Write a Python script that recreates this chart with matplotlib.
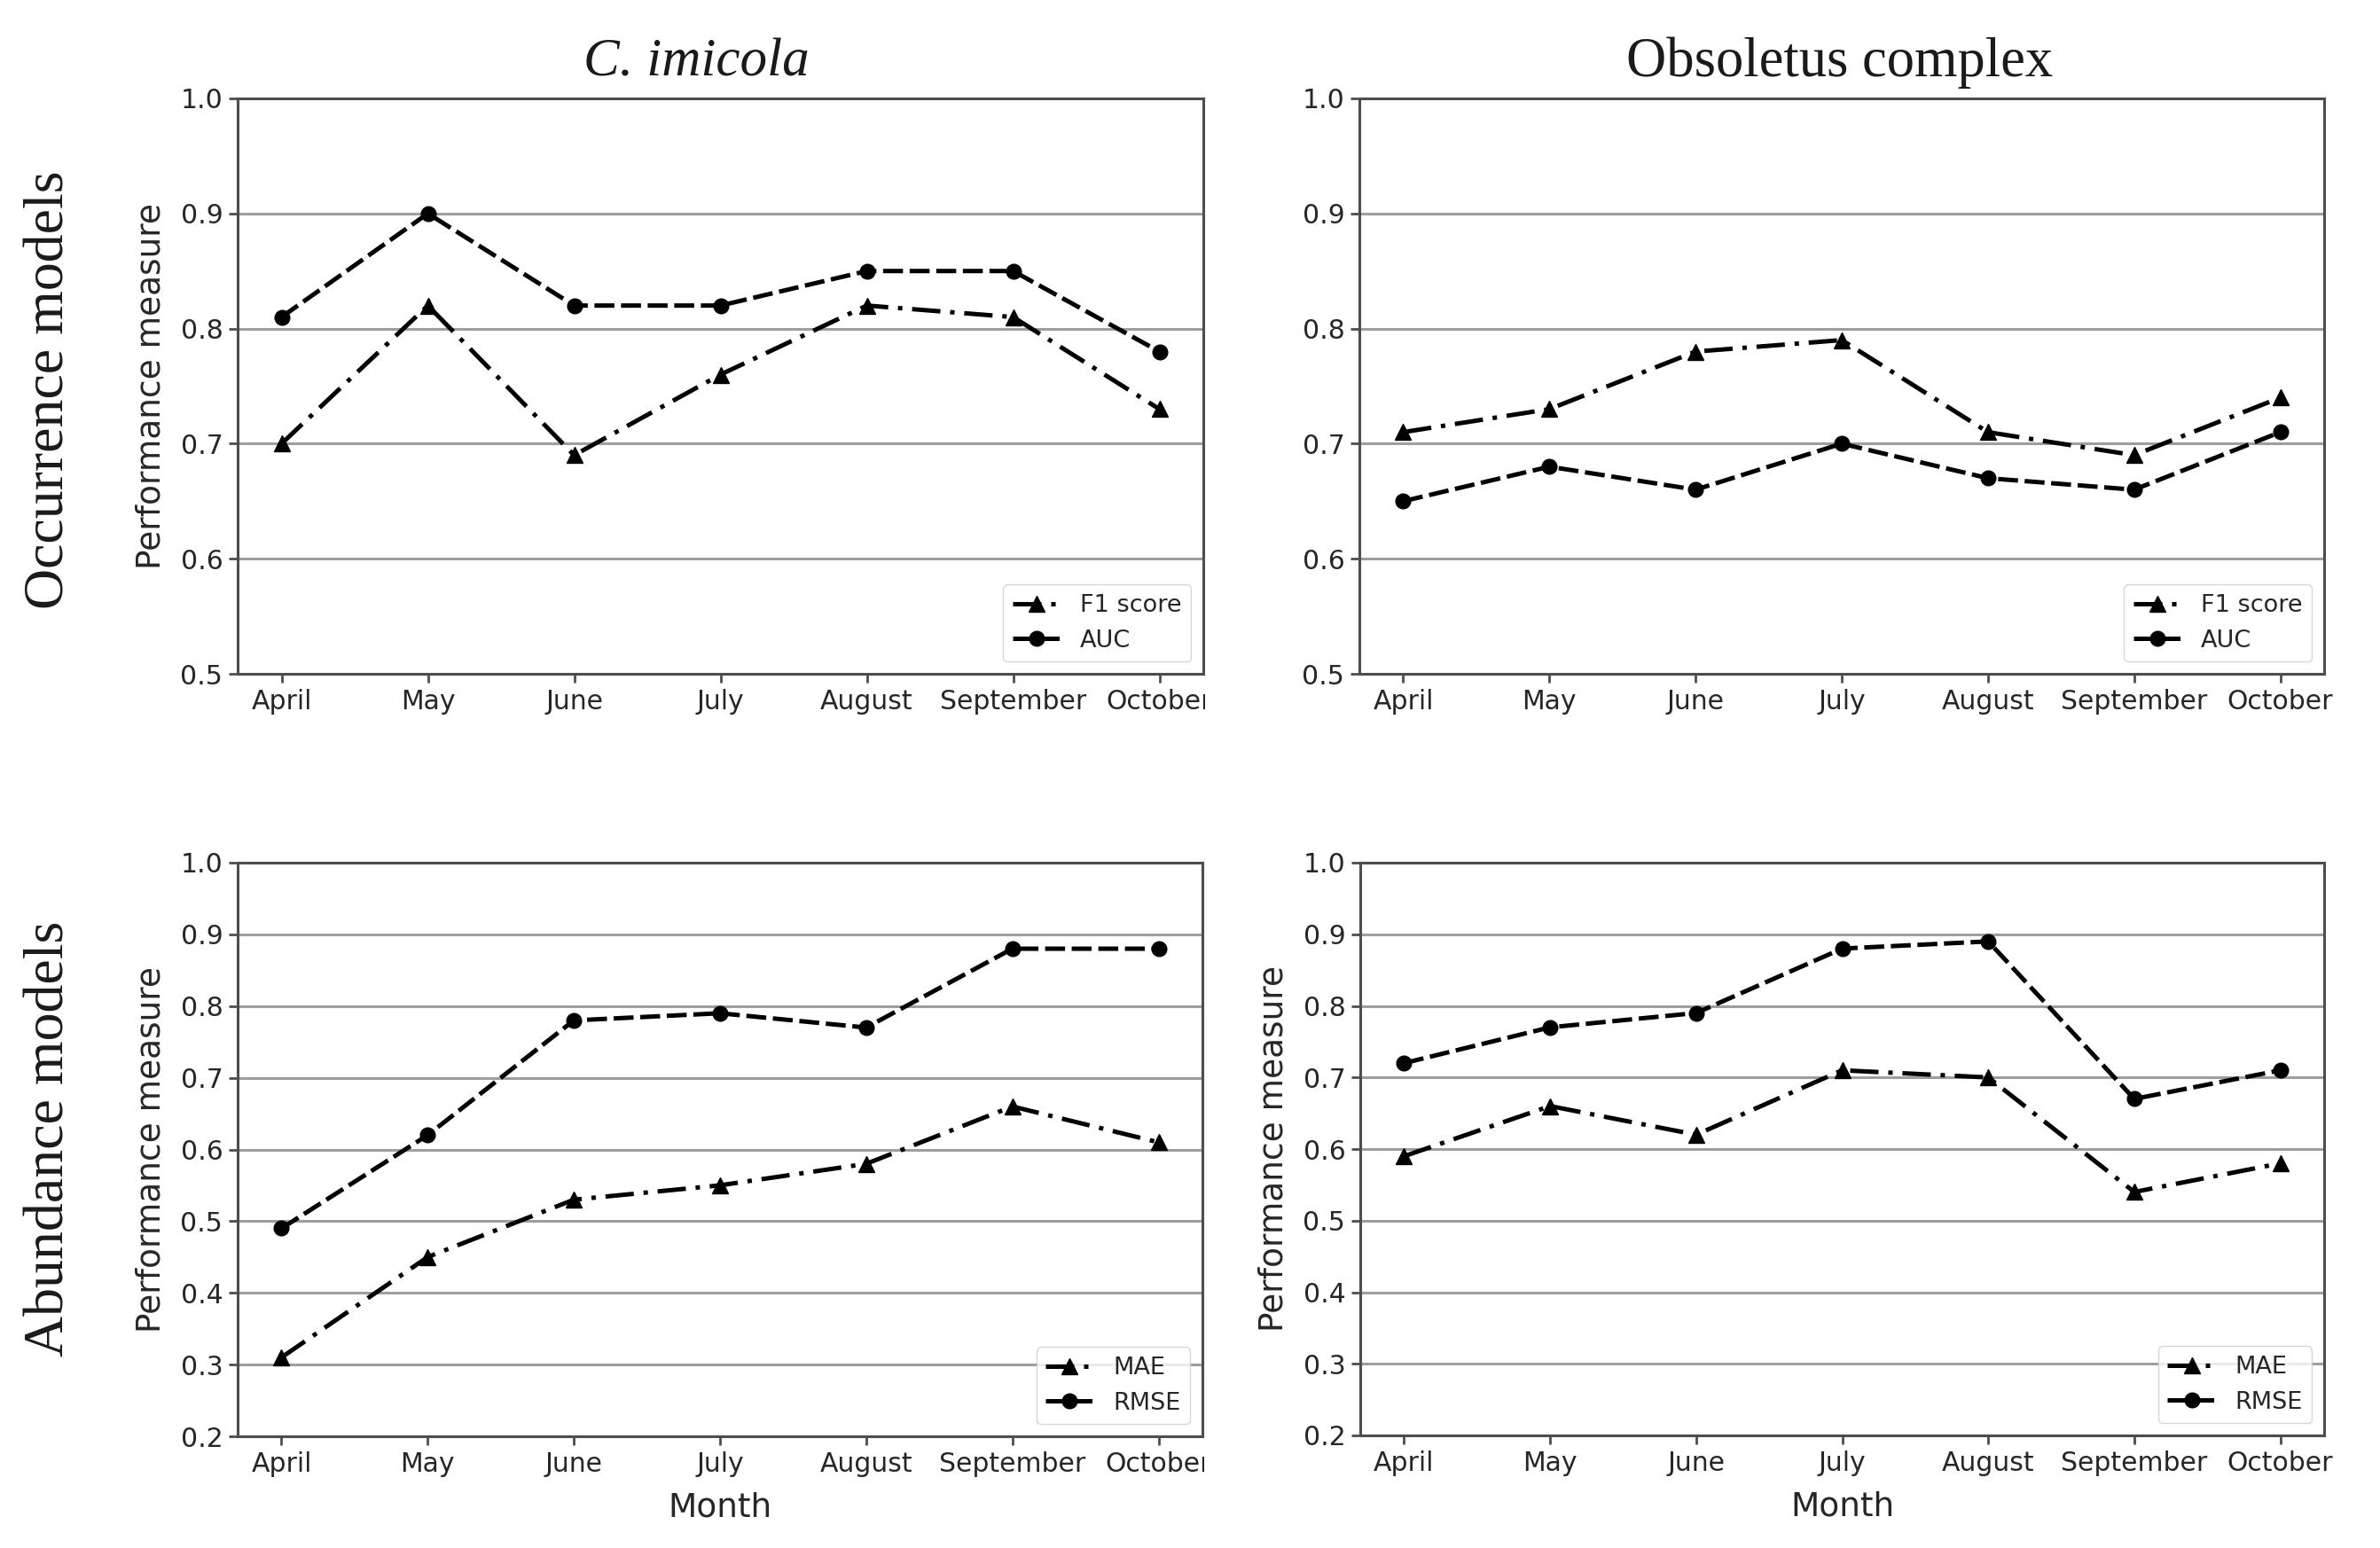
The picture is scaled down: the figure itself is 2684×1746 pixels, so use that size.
import matplotlib
matplotlib.use("Agg")
import matplotlib.pyplot as plt
from matplotlib.transforms import Bbox, TransformedBbox

# ---------------- data ----------------
months = ["April", "May", "June", "July", "August", "September", "October"]

imicola_f1 = [0.70, 0.82, 0.69, 0.76, 0.82, 0.81, 0.73]
imicola_auc = [0.81, 0.90, 0.82, 0.82, 0.85, 0.85, 0.78]

obsoletus_f1 = [0.71, 0.73, 0.78, 0.79, 0.71, 0.69, 0.74]
obsoletus_auc = [0.65, 0.68, 0.66, 0.70, 0.67, 0.66, 0.71]

imicola_mae = [0.31, 0.45, 0.53, 0.55, 0.58, 0.66, 0.61]
imicola_rmse = [0.49, 0.62, 0.78, 0.79, 0.77, 0.88, 0.88]

obsoletus_mae = [0.59, 0.66, 0.62, 0.71, 0.70, 0.54, 0.58]
obsoletus_rmse = [0.72, 0.77, 0.79, 0.88, 0.89, 0.67, 0.71]

occ_yticks = [0.5, 0.6, 0.7, 0.8, 0.9, 1.0]
abd_yticks = [0.2, 0.3, 0.4, 0.5, 0.6, 0.7, 0.8, 0.9, 1.0]

col_titles = ["C. imicola", "Obsoletus complex"]
row_titles = ["Occurrence models", "Abundance models"]

# ---------------- figure ----------------
W, H = 2684, 1746
fig = plt.figure(figsize=(W / 100, H / 100), dpi=100)
fig.patch.set_facecolor("white")

SANS = "DejaVu Sans"
SERIF = "Liberation Serif"
TXT = "0.15"


def px_axes(x0, y0, x1, y1):
    return fig.add_axes([x0 / W, 1 - y1 / H, (x1 - x0) / W, (y1 - y0) / H])


DASHDOT = (0, (6.4, 2.2, 1, 2.2))
DASHED = (0, (4.5, 1.5))


def panel(ax, a, b, la, lb, yticks, ylabel, xlabel, clip_right):
    x = list(range(len(months)))
    ax.plot(x, a, color="black", lw=3.6, linestyle=DASHDOT, marker="^",
            markersize=13, label=la)
    ax.plot(x, b, color="black", lw=3.6, linestyle=DASHED, marker="o",
            markersize=12, label=lb)
    ax.set_ylim(yticks[0], yticks[-1])
    ax.set_yticks(yticks)
    ax.set_yticklabels([f"{v:.1f}" for v in yticks])
    ax.set_xticks(x)
    ax.set_xticklabels(months)
    ax.set_axisbelow(True)
    ax.yaxis.grid(True, color="0.62", lw=2.2)
    ax.xaxis.grid(False)
    for s in ax.spines.values():
        s.set_color("0.3")
        s.set_linewidth(2.2)
    ax.tick_params(axis="both", labelsize=21.5, labelcolor=TXT, color="0.3",
                   length=7, width=2, pad=5, labelfontfamily=SANS)
    if ylabel:
        ax.set_ylabel("Performance measure", fontsize=27, color=TXT,
                      family=SANS)
        ax.yaxis.set_label_coords(-0.073, 0.5)
    if xlabel:
        ax.set_xlabel("Month", fontsize=27, color=TXT, family=SANS)
        ax.xaxis.set_label_coords(0.5, -0.097)
        ax.xaxis.label.set_va("top")
    leg = ax.legend(loc="lower right", frameon=True,
                    fancybox=True, framealpha=0.8, edgecolor="0.8",
                    prop={"family": SANS, "size": 19.5})
    for t in leg.get_texts():
        t.set_color(TXT)
    if clip_right:
        clipbox = TransformedBbox(Bbox([[-1.0, -1.0], [1.002, 2.0]]),
                                  ax.transAxes)
        for lbl in ax.get_xticklabels():
            lbl.set_clip_box(clipbox)
            lbl.set_clip_on(True)


ax_tl = px_axes(268, 111, 1357, 760)
ax_tr = px_axes(1533, 111, 2621, 760)
ax_bl = px_axes(268, 973, 1356, 1620)
ax_br = px_axes(1534, 973, 2621, 1619)

panel(ax_tl, imicola_f1, imicola_auc, "F1 score", "AUC", occ_yticks,
      True, False, True)
panel(ax_tr, obsoletus_f1, obsoletus_auc, "F1 score", "AUC", occ_yticks,
      False, False, False)
panel(ax_bl, imicola_mae, imicola_rmse, "MAE", "RMSE", abd_yticks,
      True, True, True)
panel(ax_br, obsoletus_mae, obsoletus_rmse, "MAE", "RMSE", abd_yticks,
      True, True, False)

# column titles
fig.text(785 / W, 1 - 86 / H, col_titles[0], fontsize=44, family=SERIF,
         style="italic", ha="center", va="baseline", color="0.1")
fig.text(2075 / W, 1 - 86 / H, col_titles[1], fontsize=45, family=SERIF,
         ha="center", va="baseline", color="0.1")

# row titles
fig.text(57 / W, 1 - 440 / H, row_titles[0], fontsize=46, family=SERIF,
         rotation=90, ha="center", va="center", color="0.1")
fig.text(57 / W, 1 - 1284 / H, row_titles[1], fontsize=46, family=SERIF,
         rotation=90, ha="center", va="center", color="0.1")

fig.savefig("out.png", dpi=100, facecolor="white")
